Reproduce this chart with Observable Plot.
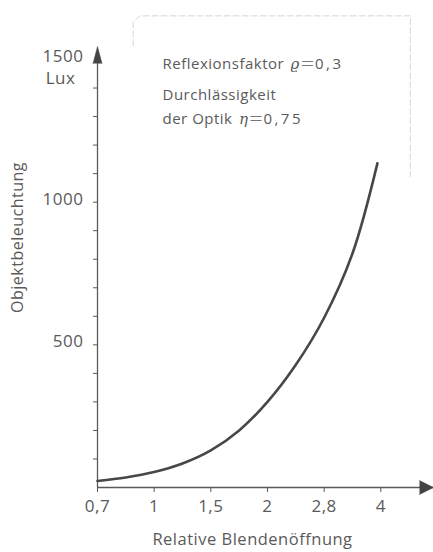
<!DOCTYPE html>
<html>
<head>
<meta charset="utf-8">
<script src="https://cdn.jsdelivr.net/npm/d3@7"></script>
<script src="https://cdn.jsdelivr.net/npm/@observablehq/plot@0.6"></script>
<style>
  html, body { margin: 0; padding: 0; background: #fff; }
</style>
</head>
<body>
<div id="chart"></div>
<script>
// ---- data ----
const stopPos = [0, 1, 2, 3, 4, 5];
const stopLabels = ["0,7", "1", "1,5", "2", "2,8", "4"];
const curvePos = [0, 0.5, 1, 1.5, 2, 2.5, 3, 3.5, 4, 4.5, 4.94];
const curveLux = [23, 35, 54, 84, 130, 200, 300, 430, 595, 820, 1136];
const yMinorTicks = [100, 200, 300, 400, 500, 600, 700, 800, 900, 1000, 1100, 1200, 1300, 1400];
const yMajorTicks = [500, 1000, 1500];
const yUnit = "Lux";
const xTitle = "Relative Blendenöffnung";
const yTitle = "Objektbeleuchtung";
const noteLines = ["Reflexionsfaktor ϱ=0,3", "Durchlässigkeit", "der Optik η=0,75"];
const noteOffsets = [0, 31, 55];
// faint frame around the note (data units)
const frameX = [0.63, 0.63, 0.75, 5.52, 5.52];
const frameY = [1548, 1630, 1653, 1653, 1090];

const xDomain = [0, 5.93];
const yDomain = [0, 1500];

const curve = curvePos.map((p, i) => ({p, v: curveLux[i]}));
const frame = frameX.map((x, i) => ({x, y: frameY[i]}));

const ink = "#5a5a5a";
const font = "'Open Sans', 'DejaVu Sans', sans-serif";

const chart = Plot.plot({
  width: 433,
  height: 552,
  marginLeft: 97,
  marginRight: 0,
  marginTop: 59,
  marginBottom: 65,
  style: {fontFamily: font, fontSize: "17px", color: ink, letterSpacing: "0.5px", background: "#fff"},
  x: {domain: xDomain, ticks: stopPos, tickSize: 5, tickPadding: 7, tickFormat: i => stopLabels[i], label: null},
  y: {domain: yDomain, ticks: yMinorTicks, tickSize: 4, tickFormat: () => "", label: null},
  marks: [
    // faint note frame
    Plot.line(frame, {x: "x", y: "y", stroke: "#bbb", strokeWidth: 1, strokeDasharray: "6,3", strokeOpacity: 0.6}),
    // axes lines
    Plot.ruleY([0], {stroke: ink, strokeWidth: 1.3}),
    Plot.ruleX([0], {y1: 0, y2: yDomain[1], stroke: ink, strokeWidth: 1.3}),
    // arrowheads
    Plot.vector([0], {x: 0, y: yDomain[1], dy: 4, length: 17, rotate: 0, shape: "spike", r: 4.5, anchor: "start", fill: "#444", stroke: "#444", strokeWidth: 0.5}),
    Plot.vector([0], {x: xDomain[1], y: 0, length: 14, rotate: 90, shape: "spike", r: 7, anchor: "end", fill: "#444", stroke: "#444", strokeWidth: 0.5}),
    // curve
    Plot.line(curve, {x: "p", y: "v", curve: "catmull-rom", stroke: "#474747", strokeWidth: 2.6}),
    // y labels
    Plot.text(yMajorTicks, {x: 0, y: d => d, text: d => String(d), dx: -14, dy: -3, textAnchor: "end", fontSize: 17, fill: ink}),
    Plot.text([yUnit], {x: 0, y: yDomain[1], text: d => d, dx: -37, dy: 19, textAnchor: "middle", fontSize: 17, fill: ink}),
    // axis titles
    Plot.text([xTitle], {frameAnchor: "bottom", text: d => d, dx: -13, dy: 57, fontSize: 16.5, fill: ink, letterSpacing: "1.5px"}),
    Plot.text([yTitle], {frameAnchor: "left", text: d => d, dx: -80, dy: -36, rotate: -90, textAnchor: "middle", fontSize: 16, fill: ink, letterSpacing: "1.3px"}),
    // note
    Plot.text(noteLines, {frameAnchor: "top-left", text: d => d, dx: 65, textAnchor: "start", fontSize: 15, fill: ink, letterSpacing: "1.4px", className: "note"})
  ]
});

// position note lines & italicise Greek symbols
d3.select(chart).selectAll("g.note text").each(function(_, i) {
  const t = d3.select(this);
  const s = noteLines[i];
  const tf = t.attr("transform") || "";
  t.attr("transform", tf + ` translate(0,${noteOffsets[i] - 1})`);
  const m = s.match(/^(.*?)([ϱη])(=)(.*)$/);
  if (m) {
    t.text(null);
    t.append("tspan").text(m[1]);
    t.append("tspan").attr("font-style", "italic").attr("font-family", "'DejaVu Serif', serif").attr("dx", "2").text(m[2]);
    t.append("tspan").attr("letter-spacing", "0px").attr("font-family", "'Noto Sans CJK SC', sans-serif").attr("font-weight", "300").text("＝");
    t.append("tspan").attr("letter-spacing", "2.5px").text(m[4]);
  }
});

document.getElementById("chart").appendChild(chart);
</script>
</body>
</html>
